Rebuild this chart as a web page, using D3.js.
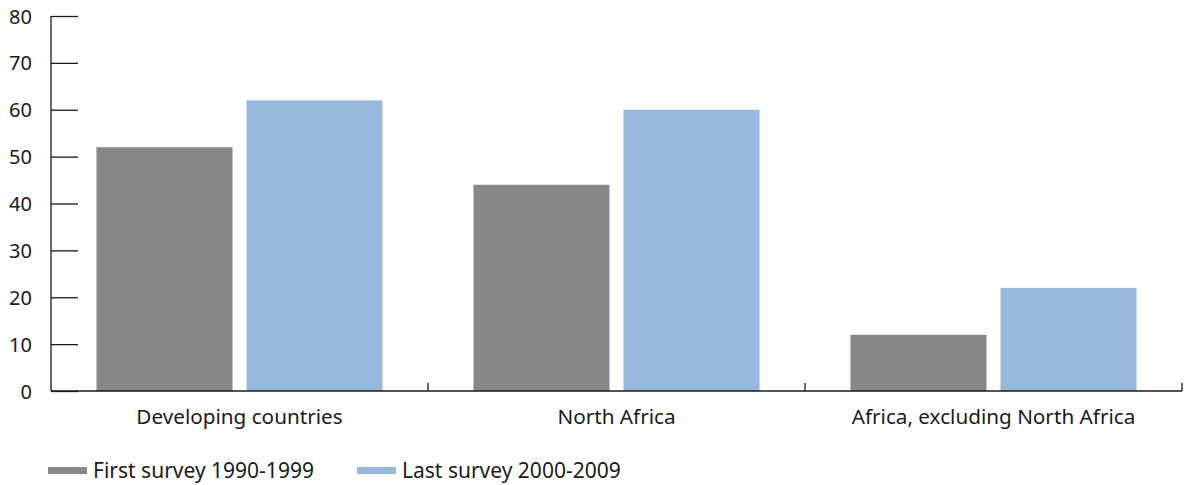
<!DOCTYPE html>
<html><head><meta charset="utf-8">
<script src="https://cdn.jsdelivr.net/npm/d3@7"></script>
<style>body{margin:0;background:#fff}svg{display:block}text{font-family:"Noto Sans",sans-serif;fill:#1a1a1a}</style>
</head><body><svg id="c" width="1189" height="485"></svg>
<script>
const categories = ["Developing countries", "North Africa", "Africa, excluding North Africa"];
const seriesNames = ["First survey 1990-1999", "Last survey 2000-2009"];
const firstSurvey = [52, 44, 12];
const lastSurvey = [62, 60, 22];
const yTicks = [0, 10, 20, 30, 40, 50, 60, 70, 80];
const colors = ["#87888a", "#98b9de"];

(function () {
const svg = d3.select("#c");
const mLeft = 51, mRight = 1182, mTop = 16, mBottom = 391;
const x = d3.scaleBand().domain(categories).range([mLeft, mRight]).paddingInner(0).paddingOuter(0);
const y = d3.scaleLinear().domain([0, 80]).range([mBottom, mTop]);
const inner = d3.scaleBand().domain([0, 1]).range([0, x.bandwidth()]).paddingInner(0.0933).paddingOuter(0.303);

const series = [firstSurvey, lastSurvey];
series.forEach((vals, si) => {
  svg.append("g").selectAll("rect").data(vals).join("rect")
    .attr("x", (d, i) => x(categories[i]) + inner(si))
    .attr("width", inner.bandwidth())
    .attr("y", d => y(d))
    .attr("height", d => y(0) - y(d))
    .attr("fill", colors[si]);
});

// y axis
const ya = svg.append("g").attr("transform", `translate(${mLeft},0)`)
  .call(d3.axisRight(y).tickValues(yTicks).tickSize(27).tickFormat(d3.format("d")));
ya.select(".domain").remove();
ya.selectAll(".tick line").attr("stroke", "#1a1a1a").attr("stroke-width", 1.3);
ya.selectAll(".tick text").attr("x", -19).attr("text-anchor", "end").attr("dy", "0.35em")
  .attr("fill", "#1a1a1a").style("font-size", "20px");
svg.append("line").attr("x1", mLeft).attr("x2", mLeft).attr("y1", y(80)).attr("y2", y(0))
  .attr("stroke", "#1a1a1a").attr("stroke-width", 1.3);

// x axis
svg.append("line").attr("x1", mLeft).attr("x2", mRight).attr("y1", y(0)).attr("y2", y(0))
  .attr("stroke", "#1a1a1a").attr("stroke-width", 1.3);
const bounds = categories.map(c => x(c) + x.bandwidth());
svg.append("g").selectAll("line").data(bounds).join("line")
  .attr("x1", d => d).attr("x2", d => d).attr("y1", y(0) - 8).attr("y2", y(0))
  .attr("stroke", "#1a1a1a").attr("stroke-width", 1.3);
svg.append("g").selectAll("text").data(categories).join("text")
  .attr("x", d => x(d) + x.bandwidth() / 2).attr("y", 424)
  .attr("text-anchor", "middle").style("font-size", "20.7px").text(d => d);

// legend
const legendX = [48, 357];
seriesNames.forEach((n, i) => {
  svg.append("rect").attr("x", legendX[i]).attr("y", 467).attr("width", 39).attr("height", 7).attr("fill", colors[i]);
  svg.append("text").attr("x", legendX[i] + 45).attr("y", 478).style("font-size", "21px").text(n);
});
})();
</script></body></html>
